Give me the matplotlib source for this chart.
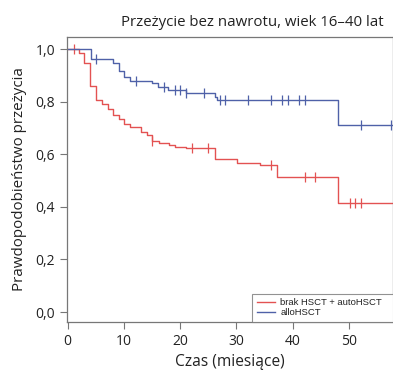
import numpy as np
import matplotlib
matplotlib.use("Agg")
import matplotlib.pyplot as plt

plt.rcParams['font.family'] = ['Open Sans', 'DejaVu Sans']

# alloHSCT: step times and survival after each step
allo_t = [0, 4.1, 8.0, 9.2, 10.0, 11.0, 15.0, 16.0, 17.8, 21.0, 26.2, 26.6, 48.1]
allo_s = [1.0, 0.961, 0.946, 0.918, 0.895, 0.880, 0.870, 0.857, 0.844, 0.834, 0.819, 0.806, 0.711]
allo_cens = [5.1, 12.1, 17.1, 19.0, 20.0, 21.0, 24.2, 27.1, 28.0, 32.1, 36.2, 38.1, 39.1, 41.1, 42.1, 52.2, 57.4]

# brak HSCT + autoHSCT
auto_t = [0, 2.0, 3.0, 4.0, 5.0, 6.2, 7.2, 8.0, 9.1, 10.1, 11.1, 13.0, 14.1, 15.0, 16.2, 18.1,
          19.1, 21.1, 26.1, 30.1, 34.1, 37.2, 48.1]
auto_s = [1.0, 0.984, 0.946, 0.859, 0.806, 0.791, 0.771, 0.749, 0.733, 0.717, 0.705, 0.686, 0.673,
          0.651, 0.644, 0.635, 0.629, 0.622, 0.581, 0.568, 0.559, 0.512, 0.416]
auto_cens = [1.2, 15.0, 22.1, 25.0, 36.2, 42.1, 44.0, 50.1, 51.1, 52.1]

t_end = 57.8
red = '#e35252'
blue = '#4f61a8'


def surv_at(t, times, surv):
    idx = np.searchsorted(times, t, side='right') - 1
    return np.array(surv)[idx]


fig = plt.figure(figsize=(3.93, 3.72), dpi=100)
ax = fig.add_axes([0.1705, 0.1344, 0.8295, 0.7661])

for times, surv, cens, col, lab in [
        (auto_t, auto_s, auto_cens, red, 'brak HSCT + autoHSCT'),
        (allo_t, allo_s, allo_cens, blue, 'alloHSCT')]:
    x = list(times) + [t_end]
    y = list(surv) + [surv[-1]]
    ax.step(x, y, where='post', color=col, lw=1.0, label=lab)
    ax.plot(cens, surv_at(cens, times, surv), ls='none', marker='|',
            ms=7, mew=0.9, color=col)

ax.set_xlim(-0.1, t_end)
ax.set_ylim(-0.038, 1.046)
ax.set_xticks([0, 10, 20, 30, 40, 50])
ax.set_yticks([0, 0.2, 0.4, 0.6, 0.8, 1.0])
ax.set_yticklabels(['0,0', '0,2', '0,4', '0,6', '0,8', '1,0'])
ax.tick_params(labelsize=10, length=5, color='#777777', labelcolor='#222222')
for sp in ax.spines.values():
    sp.set_color('#777777')
    sp.set_linewidth(0.9)

ax.set_xlabel('Czas (miesiące)', fontsize=11.2, color='#222222', labelpad=4)
ax.set_ylabel('Prawdopodobieństwo przeżycia', fontsize=10.9, color='#222222', labelpad=6)
fig.text(252 / 393, 1 - 22 / 372, 'Przeżycie bez nawrotu, wiek 16–40 lat',
         ha='center', va='center', fontsize=10.8, color='#222222')

leg = ax.legend(loc='lower left', bbox_to_anchor=(0.567, 0.0, 0.45, 0.123), mode='expand',
                borderaxespad=0, fancybox=False, handlelength=2.0, handletextpad=0.5,
                labelspacing=0.1, borderpad=0.5,
                prop={'family': ['Liberation Sans Narrow', 'Liberation Sans'], 'size': 6.8})
leg.get_frame().set_edgecolor('#777777')
leg.get_frame().set_linewidth(0.8)
for txt in leg.get_texts():
    txt.set_color('#222222')

fig.savefig('out.png', dpi=100)
